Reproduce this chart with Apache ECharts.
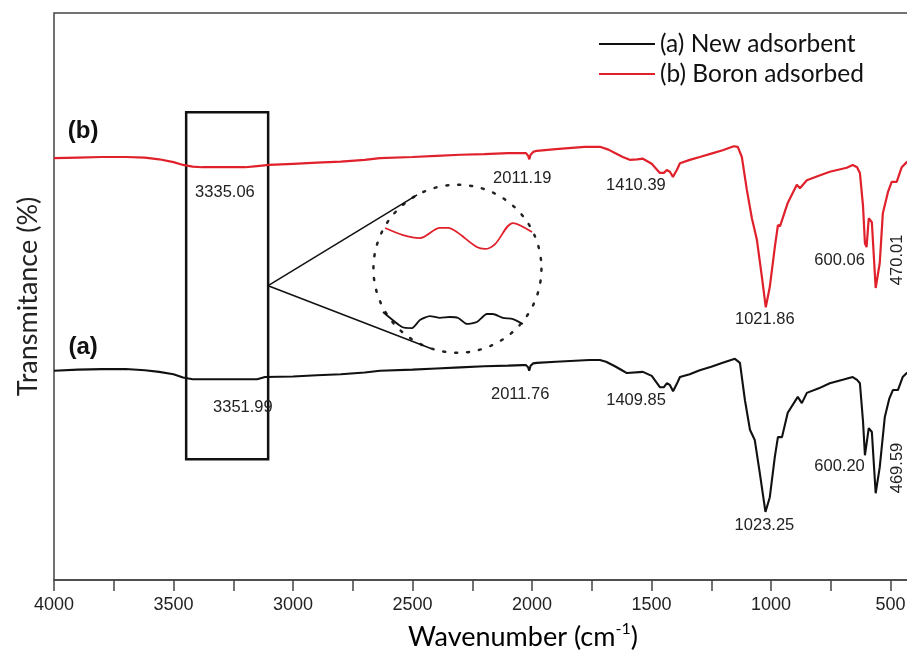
<!DOCTYPE html>
<html>
<head>
<meta charset="utf-8">
<script src="https://cdn.jsdelivr.net/npm/echarts@6/dist/echarts.min.js"></script>
<style>
  html, body { margin: 0; padding: 0; background: #fff; }
  #chart { width: 907px; height: 655px; }
</style>
</head>
<body>
<div id="chart"></div>
<script>
// FTIR spectra: wavenumber (cm-1) and relative transmittance (offset traces)
const boronWave = [4000, 3900, 3800, 3700, 3620, 3560, 3500, 3460, 3420, 3380, 3300, 3200, 3150, 3100, 3000, 2900, 2800, 2700, 2636, 2500, 2400, 2300, 2200, 2100, 2040, 2025, 2016, 2011.19, 2006, 1995, 1980, 1900, 1780, 1716, 1680, 1653, 1620, 1591, 1560, 1536, 1499, 1465, 1448, 1436, 1423, 1410.39, 1394, 1381, 1340, 1298, 1250, 1202, 1156, 1139, 1122, 1101, 1080, 1059, 1038, 1021.86, 1005, 984, 971, 962, 954, 930, 892, 879, 850, 800, 754, 683, 658, 640, 628, 615, 607, 600.06, 591, 578, 562, 545, 532, 510, 495, 474, 453, 432, 420];
const boronT = [74.4, 74.5, 74.6, 74.6, 74.5, 74.2, 73.7, 73.2, 72.9, 72.8, 72.8, 72.8, 73.0, 73.2, 73.4, 73.6, 73.8, 74.1, 74.4, 74.6, 74.8, 75.0, 75.1, 75.3, 75.3, 75.3, 74.8, 74.2, 75.0, 75.5, 75.7, 76.0, 76.4, 76.4, 75.9, 75.3, 74.6, 74.1, 74.2, 74.3, 73.4, 71.8, 71.8, 72.3, 72.0, 71.1, 72.3, 73.5, 74.1, 74.6, 75.2, 75.8, 76.5, 76.4, 74.6, 68.8, 63.8, 60.0, 53.4, 48.1, 51.7, 58.7, 62.6, 62.4, 62.1, 66.5, 69.7, 69.1, 70.5, 71.3, 72.0, 72.7, 73.2, 72.8, 71.8, 66.0, 59.4, 58.7, 63.8, 63.1, 51.5, 55.9, 64.7, 68.5, 70.2, 70.2, 72.8, 73.7, 74.0];

const newWave = [4000, 3900, 3800, 3700, 3620, 3560, 3500, 3460, 3420, 3351.99, 3250, 3150, 3117, 3000, 2900, 2800, 2700, 2636, 2500, 2400, 2300, 2200, 2100, 2040, 2025, 2016, 2011.76, 2006, 1995, 1980, 1900, 1760, 1716, 1690, 1653, 1620, 1603, 1536, 1499, 1465, 1448, 1436, 1423, 1409.85, 1394, 1381, 1340, 1298, 1250, 1202, 1151, 1130, 1109, 1088, 1068, 1047, 1023.25, 1005, 984, 971, 954, 930, 888, 871, 850, 800, 754, 700, 658, 640, 628, 615, 607, 600.20, 591, 578, 562, 545, 524, 505, 490, 469, 449, 432, 420];
const newT = [36.9, 37.1, 37.2, 37.2, 37.0, 36.7, 36.3, 35.7, 35.4, 35.4, 35.4, 35.4, 35.8, 35.9, 36.1, 36.3, 36.6, 36.9, 37.1, 37.3, 37.5, 37.7, 37.8, 37.9, 37.9, 37.5, 36.9, 37.8, 38.2, 38.3, 38.5, 38.8, 38.8, 38.5, 37.7, 36.9, 36.5, 36.7, 36.0, 34.0, 34.0, 34.7, 34.4, 33.3, 34.6, 35.8, 36.3, 37.0, 37.6, 38.3, 39.0, 38.3, 31.7, 26.5, 24.7, 18.9, 12.0, 14.6, 21.7, 25.2, 25.2, 29.5, 32.3, 31.2, 33.0, 33.8, 34.7, 35.3, 35.8, 35.3, 34.7, 28.0, 22.0, 21.7, 26.8, 26.1, 15.3, 19.9, 28.7, 32.0, 33.5, 33.5, 35.8, 36.5, 36.8];

// magnified O-H region (3447-3104 cm-1), relative scale
const zoomRange = [3447, 3104];
const insetBoronWave = [3442, 3401, 3362, 3316, 3297, 3277, 3231, 3212, 3189, 3148, 3104];
const insetBoronT = [89.2, 83.3, 80.8, 89.2, 89.2, 85.8, 73.3, 71.7, 75.8, 93.3, 85.8];
const insetNewWave = [3447, 3403, 3380, 3362, 3339, 3316, 3293, 3274, 3254, 3231, 3208, 3194, 3171, 3148, 3125];
const insetNewT = [19.2, 6.7, 5.8, 12.5, 15.8, 14.2, 15.0, 14.2, 9.2, 10.8, 17.5, 17.5, 14.2, 13.3, 9.2];

// band assignments
const boronPeaks = [3335.06, 2011.19, 1410.39, 1021.86, 600.06, 470.01];
const newPeaks = [3351.99, 2011.76, 1409.85, 1023.25, 600.20, 469.59];

const xTickLabels = [4000, 3500, 3000, 2500, 2000, 1500, 1000, 500];
const seriesNames = ['(a) New adsorbent', '(b) Boron adsorbed'];

// label placement: [transmittance level of label, horizontal shift px, rotation]
const boronLabelPlace = [[68.3, 12, 0], [70.9, -7, 0], [69.5, -37, 0], [45.9, -1, 0], [56.4, -27, 0], [56.1, 2, 90]];
const newLabelPlace = [[30.5, 34, 0], [32.8, -9, 0], [31.7, -37, 0], [9.7, -1, 0], [20.1, -27, 0], [19.4, 2, 90]];

const RED = '#e0202a';
const BLACK = '#111111';
const AXIS = '#444444';
const numFont = '"Liberation Sans", Arial, sans-serif';
const textFont = 'Lato, "Open Sans", sans-serif';

function zip(xs, ys) { return xs.map((x, i) => [x, ys[i]]); }

function peakMarks(peaks, place) {
  return peaks.map((p, i) => ({
    coord: [p, place[i][0]],
    value: p,
    symbol: 'circle',
    symbolSize: 0,
    label: {
      show: true,
      formatter: p.toFixed(2),
      offset: [place[i][1], 0],
      rotate: place[i][2],
      position: 'inside',
      color: '#222',
      fontFamily: numFont,
      fontSize: 16.5
    }
  }));
}

const chart = echarts.init(document.getElementById('chart'), null, { renderer: 'canvas' });

const option = {
  animation: false,
  backgroundColor: '#ffffff',
  grid: [
    { left: 54, top: 13, width: 956, height: 567, show: true, borderColor: AXIS, borderWidth: 1.5,
      containLabel: false, outerBoundsMode: 'none' },
    { left: 383, top: 215, width: 149, height: 120, containLabel: false, outerBoundsMode: 'none' }
  ],
  xAxis: [
    {
      type: 'value', gridIndex: 0, min: 0, max: 4000, interval: 250, inverse: true,
      axisLine: { show: true, lineStyle: { color: AXIS, width: 1.5 } },
      axisTick: { show: true, length: 11, lineStyle: { color: AXIS, width: 1.5 } },
      splitLine: { show: false },
      axisLabel: {
        show: true, margin: 16, color: '#222', fontFamily: numFont, fontSize: 18,
        showMaxLabel: true, hideOverlap: false,
        formatter: v => (xTickLabels.includes(v) ? String(v) : '')
      }
    },
    { type: 'value', gridIndex: 1, min: zoomRange[1], max: zoomRange[0], inverse: true, show: false }
  ],
  yAxis: [
    {
      type: 'value', gridIndex: 0, min: 0, max: 100,
      name: 'Transmitance (%)', nameLocation: 'middle', nameGap: 12,
      nameTextStyle: { fontFamily: textFont, fontSize: 27, color: '#222' },
      axisLine: { show: true, lineStyle: { color: AXIS, width: 1.5 } },
      axisTick: { show: false }, axisLabel: { show: false }, splitLine: { show: false }
    },
    { type: 'value', gridIndex: 1, min: 0, max: 100, show: false }
  ],
  legend: {
    orient: 'vertical', left: 594, top: 25, itemWidth: 56, itemHeight: 2, itemGap: 2,
    icon: 'rect',
    textStyle: { fontFamily: textFont, fontSize: 24.5, color: '#111', lineHeight: 28 },
    data: seriesNames
  },
  series: [
    {
      name: seriesNames[1], type: 'line', xAxisIndex: 0, yAxisIndex: 0,
      data: zip(boronWave, boronT), symbol: 'none', smooth: false,
      lineStyle: { color: RED, width: 2.2 }, itemStyle: { color: RED },
      markPoint: { silent: true, data: peakMarks(boronPeaks, boronLabelPlace) },
      markArea: {
        silent: true,
        itemStyle: { color: 'rgba(0,0,0,0)', borderColor: '#111', borderWidth: 2.5 },
        data: [[{ xAxis: zoomRange[0], yAxis: 82.5 }, { xAxis: zoomRange[1], yAxis: 21.3 }]]
      },
      z: 3
    },
    {
      name: seriesNames[0], type: 'line', xAxisIndex: 0, yAxisIndex: 0,
      data: zip(newWave, newT), symbol: 'none', smooth: false,
      lineStyle: { color: BLACK, width: 2.1 }, itemStyle: { color: BLACK },
      markPoint: { silent: true, data: peakMarks(newPeaks, newLabelPlace) },
      z: 3
    },
    {
      name: 'inset-b', type: 'line', xAxisIndex: 1, yAxisIndex: 1,
      data: zip(insetBoronWave, insetBoronT), symbol: 'none', smooth: 0.3,
      lineStyle: { color: RED, width: 1.8 }, clip: false
    },
    {
      name: 'inset-a', type: 'line', xAxisIndex: 1, yAxisIndex: 1,
      data: zip(insetNewWave, insetNewT), symbol: 'none', smooth: 0.2,
      lineStyle: { color: BLACK, width: 1.8 }, clip: false
    }
  ]
};

chart.setOption(option);

// magnifier lens: dotted circle and the two connector lines from the boxed region
const lensCentre = chart.convertToPixel({ gridIndex: 0 }, [2312, 54.9]);
const lensR = 84;
const apex = chart.convertToPixel({ gridIndex: 0 }, [zoomRange[1], (82.5 + 21.3) / 2]);
const dx = lensCentre[0] - apex[0], dy = lensCentre[1] - apex[1];
const d = Math.hypot(dx, dy);
const tLen = Math.sqrt(d * d - lensR * lensR);
const base = Math.atan2(dy, dx), half = Math.asin(lensR / d);
const tanPt = s => [apex[0] + (tLen + 4) * Math.cos(base + s * half), apex[1] + (tLen + 4) * Math.sin(base + s * half)];
const tUp = tanPt(-1), tDn = tanPt(1);

const seriesTag = (txt, val) => {
  const p = chart.convertToPixel({ gridIndex: 0 }, [3878, val]);
  return {
    type: 'text', x: p[0], y: p[1],
    style: { text: txt, fill: '#111', font: 'bold 24px "Liberation Sans", Arial, sans-serif', textAlign: 'center', textVerticalAlign: 'middle' }
  };
};

chart.setOption({
  graphic: [
    {
      type: 'circle', shape: { cx: lensCentre[0], cy: lensCentre[1], r: lensR },
      style: { fill: 'none', stroke: '#222', lineWidth: 2.5, lineDash: [2, 10], lineCap: 'round' }
    },
    { type: 'line', shape: { x1: apex[0], y1: apex[1], x2: tUp[0], y2: tUp[1] }, style: { stroke: '#111', lineWidth: 1.5 } },
    { type: 'line', shape: { x1: apex[0], y1: apex[1], x2: tDn[0], y2: tDn[1] }, style: { stroke: '#111', lineWidth: 1.5 } },
    seriesTag('(b)', 79.2),
    seriesTag('(a)', 41.0),
    {
      type: 'text', x: 523, y: 637,
      style: {
        text: '{m|Wavenumber (cm}{s|-1}{m|)}',
        textAlign: 'center', textVerticalAlign: 'middle',
        rich: {
          m: { fontFamily: textFont, fontSize: 27, color: '#111', lineHeight: 32 },
          s: { fontFamily: textFont, fontSize: 16, color: '#111', lineHeight: 32, verticalAlign: 'top' }
        }
      }
    }
  ]
});
</script>
</body>
</html>
